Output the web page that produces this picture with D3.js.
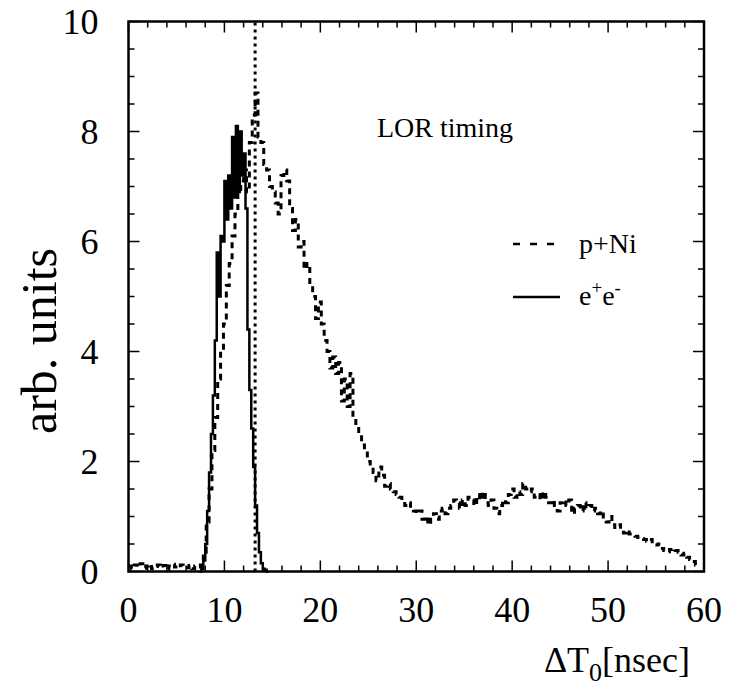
<!DOCTYPE html>
<html><head><meta charset="utf-8">
<script src="https://cdn.jsdelivr.net/npm/d3@7"></script>
<style>body{margin:0;background:#fff}svg{display:block}text{font-family:"Liberation Serif","Times New Roman",serif;fill:#000}</style>
</head><body><svg id="c" width="729" height="696"></svg>
<script>
// p+Ni histogram: bin width 0.3 ns starting at 0
const pniBinStart = 0, pniBinWidth = 0.3;
const pniValues = [
0.10,0.05,0.12,0.08,0.14,0.06,0.10,0.13,0.05,0.09,
0.12,0.07,0.11,0.04,0.10,0.13,0.08,0.06,0.12,0.09,
0.07,0.11,0.05,0.10,0.08,0.12,0.35,0.90,1.50,2.20,
2.80,3.50,4.00,4.50,5.20,5.60,6.10,6.50,6.90,7.10,
7.30,6.90,7.80,8.30,8.70,7.90,7.80,7.40,7.30,7.00,
6.90,6.70,6.50,7.20,7.30,7.10,6.60,6.20,6.40,5.90,
6.00,5.50,5.60,5.20,5.00,4.60,4.90,4.50,4.20,4.00,
3.70,3.90,3.60,3.80,3.10,3.50,3.00,3.60,2.80,2.60,
2.50,2.30,2.20,2.00,1.90,1.80,1.65,1.90,1.75,1.55,
1.60,1.50,1.45,1.40,1.35,1.30,1.20,1.25,1.15,1.10,
1.05,1.10,0.95,1.00,0.85,0.95,1.05,0.95,1.10,1.15,
1.05,1.15,1.20,1.30,1.25,1.15,1.30,1.20,1.35,1.30,
1.20,1.40,1.30,1.45,1.25,1.20,1.30,1.15,1.05,1.20,
1.30,1.25,1.40,1.50,1.35,1.45,1.40,1.60,1.50,1.45,
1.50,1.35,1.40,1.30,1.45,1.35,1.25,1.30,1.20,1.10,
1.25,1.30,1.20,1.30,1.05,1.15,1.20,1.10,1.25,1.15,
1.20,1.10,1.15,1.05,1.10,0.95,0.90,1.00,0.85,0.80,
0.85,0.75,0.70,0.75,0.68,0.65,0.64,0.62,0.60,0.58,
0.55,0.58,0.50,0.48,0.50,0.42,0.38,0.36,0.40,0.42,
0.38,0.35,0.30,0.33,0.26,0.22,0.18,0.12
];
// e+e- histogram: bin width 0.2 ns starting at 7.4
const eeBinStart = 7.4, eeBinWidth = 0.2;
const eeValues = [
0.00,0.05,0.20,0.50,1.10,1.80,2.50,3.20,4.20,5.80,
5.00,6.10,6.00,7.10,6.40,7.20,6.60,7.90,6.80,8.10,
6.90,8.00,7.20,7.60,6.60,4.40,3.30,2.60,1.90,1.20,
0.70,0.35,0.15,0.05,0.03,0.00
];
const xTicks = [0,10,20,30,40,50,60];
const yTicks = [0,2,4,6,8,10];
const markerX = 13.2;
const seriesNames = ["p+Ni","e+e-"];

const svg = d3.select("#c");
const L = 128.5, R = 704, T = 21.5, B = 571.5;
const x = d3.scaleLinear().domain([0,60]).range([L,R]);
const y = d3.scaleLinear().domain([0,10]).range([B,T]);

function histPts(start, w, vals){
  const pts = vals.map((v,i)=>[start+i*w, v]);
  pts.push([start+vals.length*w, vals[vals.length-1]]);
  return pts;
}
const line = d3.line().x(d=>x(d[0])).y(d=>y(d[1])).curve(d3.curveStepAfter);

const g = svg.append("g");
g.append("path").attr("d", line(histPts(pniBinStart,pniBinWidth,pniValues)))
  .attr("fill","none").attr("stroke","#000").attr("stroke-width",3)
  .attr("stroke-dasharray","6,5");
g.append("path").attr("d", line(histPts(eeBinStart,eeBinWidth,eeValues)))
  .attr("fill","none").attr("stroke","#000").attr("stroke-width",2.5);
g.append("line").attr("x1",x(markerX)).attr("x2",x(markerX)).attr("y1",y(0)).attr("y2",y(10))
  .attr("stroke","#000").attr("stroke-width",3).attr("stroke-dasharray","3,4");

// axes (ticks inward)
const majorLen = 11, minorLen = 6;
const xMinor = d3.range(0,60.001,2).filter(v=>v%10!==0);
const yMinor = d3.range(0,10.001,0.5).filter(v=>v%2!==0);
const ax = svg.append("g").attr("stroke","#000").attr("stroke-width",1.5);
function tick(x1,y1,x2,y2){ax.append("line").attr("x1",x1).attr("y1",y1).attr("x2",x2).attr("y2",y2);}
xTicks.forEach(v=>{tick(x(v),B,x(v),B-majorLen);tick(x(v),T,x(v),T+majorLen);});
xMinor.forEach(v=>{tick(x(v),B,x(v),B-minorLen);tick(x(v),T,x(v),T+minorLen);});
yTicks.forEach(v=>{tick(L,y(v),L+majorLen,y(v));tick(R,y(v),R-majorLen,y(v));});
yMinor.forEach(v=>{tick(L,y(v),L+minorLen,y(v));tick(R,y(v),R-minorLen,y(v));});
svg.append("rect").attr("x",L).attr("y",T).attr("width",R-L).attr("height",B-T)
  .attr("fill","none").attr("stroke","#000").attr("stroke-width",2.5);

// tick labels
const fs = 36;
svg.append("g").selectAll("text").data(xTicks).join("text")
  .attr("x",d=>x(d)).attr("y",B+50).attr("text-anchor","middle").attr("font-size",fs).text(d=>d);
svg.append("g").selectAll("text").data(yTicks).join("text")
  .attr("x",L-30).attr("y",d=>y(d)+12).attr("text-anchor","end").attr("font-size",fs).text(d=>d);

// axis titles
svg.append("text").attr("transform","translate(56,341) rotate(-90)").attr("text-anchor","middle")
  .attr("font-size",50).text("arb. units");
const xt = svg.append("text").attr("x",690).attr("y",672).attr("text-anchor","end").attr("font-size",36);
xt.append("tspan").text("ΔT");
xt.append("tspan").attr("font-size",26).attr("dy",9).text("0");
xt.append("tspan").attr("dy",-9).text("[nsec]");

svg.append("text").attr("x",377).attr("y",137).attr("font-size",28).text("LOR timing");

// legend
const lg = svg.append("g");
lg.append("line").attr("x1",513).attr("x2",556).attr("y1",244).attr("y2",244)
  .attr("stroke","#000").attr("stroke-width",2.5).attr("stroke-dasharray","7,10");
lg.append("text").attr("x",579).attr("y",253).attr("font-size",28).text(seriesNames[0]);
lg.append("line").attr("x1",513).attr("x2",560).attr("y1",297).attr("y2",297)
  .attr("stroke","#000").attr("stroke-width",2.5);
const et = lg.append("text").attr("x",579).attr("y",305).attr("font-size",28);
et.append("tspan").text("e");
et.append("tspan").attr("font-size",19).attr("dy",-11).text("+");
et.append("tspan").attr("font-size",28).attr("dy",11).text("e");
et.append("tspan").attr("font-size",19).attr("dy",-11).text("-");
</script></body></html>
